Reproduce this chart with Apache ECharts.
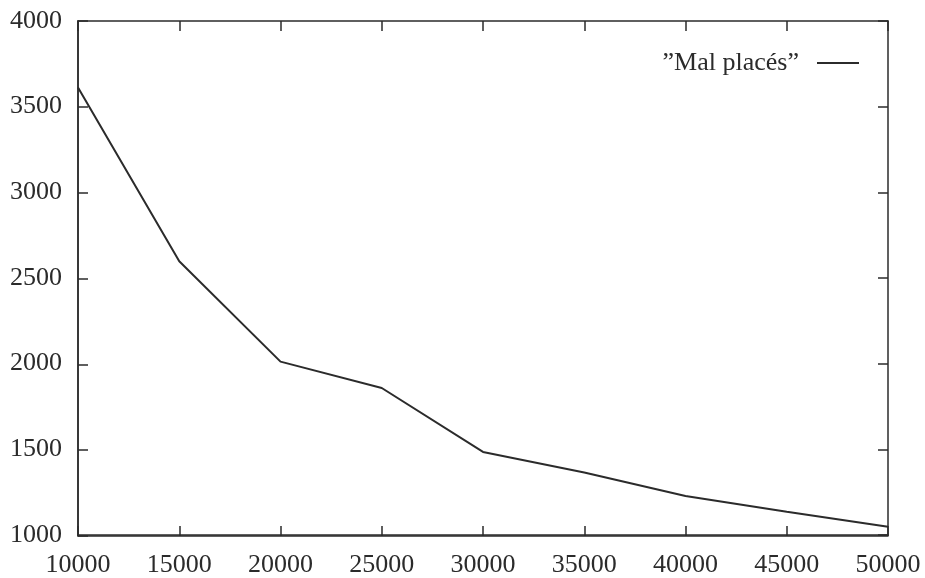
<!DOCTYPE html>
<html>
<head>
<meta charset="utf-8">
<script src="https://cdn.jsdelivr.net/npm/echarts@6/dist/echarts.min.js"></script>
<style>
  html, body { margin: 0; padding: 0; background: #fff; }
  #chart { width: 925px; height: 578px; }
</style>
</head>
<body>
<div id="chart"></div>
<script>
// nombre d'éléments
var sizes = [10000, 15000, 20000, 25000, 30000, 35000, 40000, 45000, 50000]
// "Mal placés"
var malPlaces = [3612, 2598, 2012, 1858, 1485, 1365, 1228, 1136, 1048]
var seriesName = '”Mal placés”'

var points = sizes.map(function(x, i) { return [x, malPlaces[i]] })

var ink = '#2b2b2b'
var serif = '"Liberation Serif", "DejaVu Serif", serif'
var box = { left: 78, right: 37, top: 21, bottom: 42 }

var chart = echarts.init(document.getElementById('chart'))

// axe avec étiquettes (sans graduations) ou axe de graduations internes (sans étiquettes)
function xAxisCfg(grid, pos, showLabel) {
  return {
    type: 'value',
    gridIndex: grid,
    position: pos,
    min: 10000,
    max: 50000,
    interval: 5000,
    splitLine: { show: false },
    axisLine: { show: true, onZero: false, lineStyle: { color: ink, width: 1.5 } },
    axisTick: { show: !showLabel, inside: true, length: 10, lineStyle: { color: ink, width: 1.5 } },
    axisLabel: {
      show: showLabel,
      color: ink,
      fontFamily: serif,
      fontSize: 26,
      margin: 17,
      formatter: function(v) { return String(v) }
    }
  }
}

function yAxisCfg(grid, pos, showLabel) {
  return {
    type: 'value',
    gridIndex: grid,
    position: pos,
    min: 1000,
    max: 4000,
    interval: 500,
    splitLine: { show: false },
    axisLine: { show: true, onZero: false, lineStyle: { color: ink, width: 1.5 } },
    axisTick: { show: !showLabel, inside: true, length: 10, lineStyle: { color: ink, width: 1.5 } },
    axisLabel: {
      show: showLabel,
      color: ink,
      fontFamily: serif,
      fontSize: 26,
      margin: 16,
      formatter: function(v) { return String(v) }
    }
  }
}

chart.setOption({
  animation: false,
  backgroundColor: '#fff',
  grid: [box, box],
  legend: {
    top: 45,
    right: 61,
    align: 'right',
    icon: 'rect',
    itemWidth: 42,
    itemHeight: 2,
    textStyle: {
      color: ink,
      fontFamily: serif,
      fontSize: 26,
      padding: [0, 13, 0, 0]
    },
    data: [seriesName]
  },
  xAxis: [
    xAxisCfg(0, 'bottom', true), xAxisCfg(0, 'top', false),
    xAxisCfg(1, 'bottom', false)
  ],
  yAxis: [
    yAxisCfg(0, 'left', true), yAxisCfg(0, 'right', false),
    yAxisCfg(1, 'left', false)
  ],
  series: [{
    name: seriesName,
    type: 'line',
    xAxisIndex: 0,
    yAxisIndex: 0,
    data: points,
    symbol: 'none',
    lineStyle: { color: ink, width: 2 },
    itemStyle: { color: ink }
  }]
})
</script>
</body>
</html>
